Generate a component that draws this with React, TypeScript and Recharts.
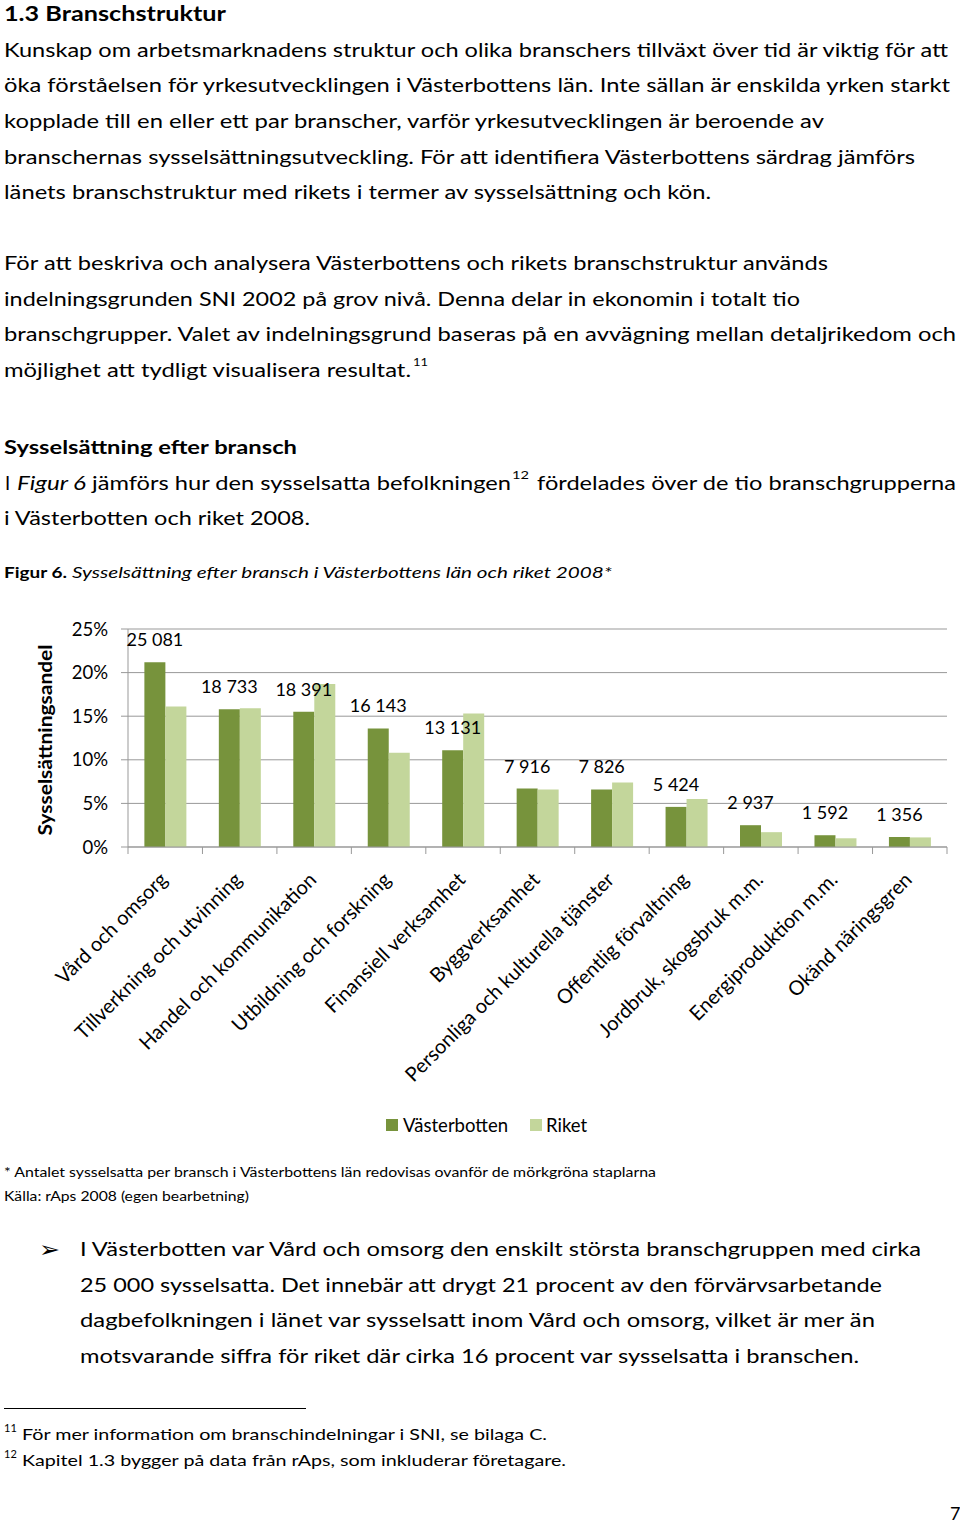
import React from 'react';
import { BarChart, Bar, XAxis, YAxis, CartesianGrid, Legend, LabelList, Label } from 'recharts';

// Figur 6 data (andel sysselsatta per bransch, %)
const branscher = [
  'Vård och omsorg',
  'Tillverkning och utvinning',
  'Handel och kommunikation',
  'Utbildning och forskning',
  'Finansiell verksamhet',
  'Byggverksamhet',
  'Personliga och kulturella tjänster',
  'Offentlig förvaltning',
  'Jordbruk, skogsbruk m.m.',
  'Energiproduktion m.m.',
  'Okänd näringsgren',
];
const vasterbotten = [21.2, 15.8, 15.5, 13.6, 11.1, 6.7, 6.6, 4.6, 2.5, 1.35, 1.15];
const riket = [16.1, 15.9, 18.7, 10.8, 15.3, 6.6, 7.4, 5.5, 1.7, 1.0, 1.1];
const antal = ['25 081', '18 733', '18 391', '16 143', '13 131', '7 916', '7 826', '5 424', '2 937', '1 592', '1 356'];
const yTicks = [0, 5, 10, 15, 20, 25];

const data = branscher.map((namn, i) => ({
  namn,
  vasterbotten: vasterbotten[i],
  riket: riket[i],
  antal: antal[i],
}));

const FONT = 'Lato, "Open Sans", sans-serif';
const DARK = '#77933c';
const LIGHT = '#c3d69b';
const GRID = '#999999';

type Ln = { t: string; x: number; y: number; w?: number; s?: number; b?: boolean; i?: boolean; f?: string };

const textLines: Ln[] = [
  { t: '1.3 Branschstruktur', x: 4, y: 21, w: 222, s: 21, b: true },
  { t: 'Kunskap om arbetsmarknadens struktur och olika branschers tillväxt över tid är viktig för att', x: 4, y: 57, w: 944 },
  { t: 'öka förståelsen för yrkesutvecklingen i Västerbottens län. Inte sällan är enskilda yrken starkt', x: 4, y: 92, w: 946 },
  { t: 'kopplade till en eller ett par branscher, varför yrkesutvecklingen är beroende av', x: 4, y: 128, w: 820 },
  { t: 'branschernas sysselsättningsutveckling. För att identifiera Västerbottens särdrag jämförs', x: 4, y: 164, w: 911 },
  { t: 'länets branschstruktur med rikets i termer av sysselsättning och kön.', x: 4, y: 199, w: 707 },
  { t: 'För att beskriva och analysera Västerbottens och rikets branschstruktur används', x: 4, y: 270, w: 824 },
  { t: 'indelningsgrunden SNI 2002 på grov nivå. Denna delar in ekonomin i totalt tio', x: 4, y: 306, w: 796 },
  { t: 'branschgrupper. Valet av indelningsgrund baseras på en avvägning mellan detaljrikedom och', x: 4, y: 341, w: 952 },
  { t: 'möjlighet att tydligt visualisera resultat.', x: 4, y: 377, w: 407 },
  { t: '11', x: 413, y: 366, w: 15, s: 12 },
  { t: 'Sysselsättning efter bransch', x: 4, y: 454, w: 293, b: true },
  { t: 'I', x: 5, y: 490 },
  { t: 'Figur 6', x: 17, y: 490, w: 69, i: true },
  { t: 'jämförs hur den sysselsatta befolkningen', x: 92, y: 490, w: 419 },
  { t: '12', x: 512, y: 479, w: 17, s: 12 },
  { t: 'fördelades över de tio branschgrupperna', x: 537, y: 490, w: 419 },
  { t: 'i Västerbotten och riket 2008.', x: 4, y: 525, w: 306 },
  { t: 'Figur 6.', x: 4, y: 578, w: 63, s: 15, b: true },
  { t: 'Sysselsättning efter bransch i Västerbottens län och riket 2008*', x: 72, y: 578, w: 540, s: 15, i: true },
  { t: '* Antalet sysselsatta per bransch i Västerbottens län redovisas ovanför de mörkgröna staplarna', x: 4, y: 1177, w: 652, s: 13.5 },
  { t: 'Källa: rAps 2008 (egen bearbetning)', x: 4, y: 1201, w: 245, s: 13.5 },
  { t: '➢', x: 39, y: 1257, w: 21, s: 22, f: '"DejaVu Sans", sans-serif' },
  { t: 'I Västerbotten var Vård och omsorg den enskilt största branschgruppen med cirka', x: 80, y: 1256, w: 841 },
  { t: '25 000 sysselsatta. Det innebär att drygt 21 procent av den förvärvsarbetande', x: 80, y: 1292, w: 802 },
  { t: 'dagbefolkningen i länet var sysselsatt inom Vård och omsorg, vilket är mer än', x: 80, y: 1327, w: 795 },
  { t: 'motsvarande siffra för riket där cirka 16 procent var sysselsatta i branschen.', x: 80, y: 1363, w: 779 },
  { t: '11', x: 4, y: 1432, s: 11 },
  { t: 'För mer information om branschindelningar i SNI, se bilaga C.', x: 22, y: 1440, w: 525, s: 16 },
  { t: '12', x: 4, y: 1458, s: 11 },
  { t: 'Kapitel 1.3 bygger på data från rAps, som inkluderar företagare.', x: 22, y: 1466, w: 544, s: 16 },
  { t: '7', x: 950, y: 1520, s: 18 },
];

const XTick = (props: any) => {
  const { x, y, payload, index } = props;
  const half = payload && payload.offset ? payload.offset : 37.2;
  const ax = x + 3.5;
  const ay = y + 34;
  return (
    <g>
      <line x1={x - half} y1={y} x2={x - half} y2={y + 7} stroke={GRID} />
      {index === branscher.length - 1 && (
        <line x1={x + half} y1={y} x2={x + half} y2={y + 7} stroke={GRID} />
      )}
      <text
        x={ax}
        y={ay}
        transform={`rotate(-45, ${ax}, ${ay})`}
        textAnchor="end"
        fontSize={20}
        fontFamily={FONT}
        fill="#000"
      >
        {payload.value}
      </text>
    </g>
  );
};

const AntalLabel = (p: any) => (
  <text x={p.x + p.width / 2} y={p.y - 16} textAnchor="middle" fontSize={18} fontFamily={FONT} fill="#000">
    {p.value}
  </text>
);

const YTitle = (p: any) => {
  const vb = p.viewBox;
  const cx = vb.x + 52;
  const cy = vb.y + vb.height / 2 + 2;
  return (
    <text
      x={cx}
      y={cy}
      transform={`rotate(-90, ${cx}, ${cy})`}
      textAnchor="middle"
      fontSize={18.5}
      fontWeight="bold"
      fontFamily={FONT}
      textLength={191}
      lengthAdjust="spacingAndGlyphs"
      fill="#000"
    >
      Sysselsättningsandel
    </text>
  );
};

const LegendBox = () => (
  <div style={{ height: 20, display: 'flex', alignItems: 'center', fontFamily: FONT, fontSize: 18.5, color: '#000', paddingLeft: 386 }}>
    <span style={{ width: 12, height: 12, background: DARK, display: 'inline-block', marginRight: 5 }} />
    <span>Västerbotten</span>
    <span style={{ width: 12, height: 12, background: LIGHT, display: 'inline-block', marginLeft: 22, marginRight: 4 }} />
    <span>Riket</span>
  </div>
);

export default function App() {
  return (
    <div style={{ position: 'absolute', left: 0, top: 0, width: 960, height: 1523, background: '#fff', overflow: 'hidden' }}>
      <svg width={960} height={1523} style={{ position: 'absolute', left: 0, top: 0 }}>
        {textLines.map((l, k) => (
          <text
            key={k}
            x={l.x}
            y={l.y}
            fontSize={l.s || 18.5}
            fontWeight={l.b ? 'bold' : 'normal'}
            fontStyle={l.i ? 'italic' : 'normal'}
            fontFamily={l.f || FONT}
            fill="#000"
            textLength={l.w}
            lengthAdjust={l.w ? 'spacingAndGlyphs' : undefined}
          >
            {l.t}
          </text>
        ))}
        <line x1={4} y1={1408.5} x2={306} y2={1408.5} stroke="#000" strokeWidth={1} />
      </svg>
      <div style={{ position: 'absolute', left: 0, top: 600 }}>
        <BarChart
          width={960}
          height={540}
          data={data}
          margin={{ top: 29, right: 13, left: 0, bottom: 5 }}
          barCategoryGap="22%"
          barGap={0}
        >
          <CartesianGrid vertical={false} stroke={GRID} />
          <XAxis
            dataKey="namn"
            interval={0}
            height={268}
            tickLine={false}
            tickSize={0}
            tickMargin={0}
            axisLine={{ stroke: GRID }}
            tick={<XTick />}
          />
          <YAxis
            width={128}
            domain={[0, 25]}
            ticks={yTicks}
            interval={0}
            tickFormatter={(v: number) => `${v}%`}
            tickSize={7}
            tickMargin={13}
            tickLine={{ stroke: GRID }}
            axisLine={{ stroke: GRID }}
            tick={{ fill: '#000', fontSize: 18.5, fontFamily: FONT }}
          >
            <Label content={<YTitle />} />
          </YAxis>
          <Legend verticalAlign="bottom" content={<LegendBox />} />
          <Bar dataKey="vasterbotten" name="Västerbotten" fill={DARK} isAnimationActive={false}>
            <LabelList dataKey="antal" content={<AntalLabel />} />
          </Bar>
          <Bar dataKey="riket" name="Riket" fill={LIGHT} isAnimationActive={false} />
        </BarChart>
      </div>
    </div>
  );
}
